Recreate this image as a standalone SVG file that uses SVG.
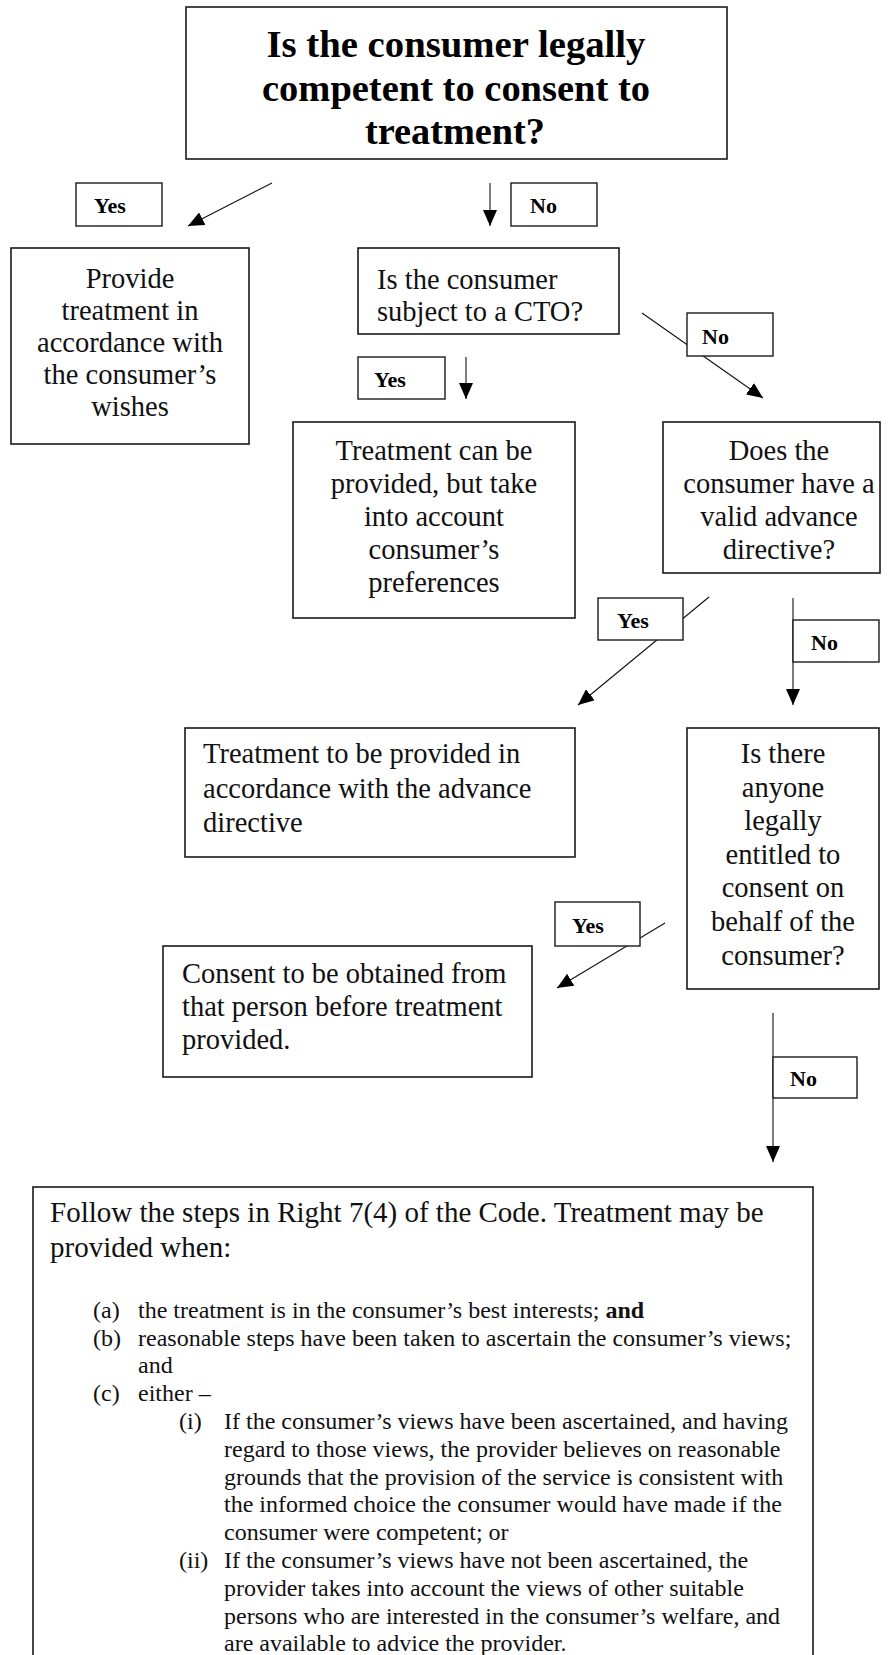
<svg xmlns="http://www.w3.org/2000/svg" width="893" height="1655" viewBox="0 0 893 1655">
<style>
.bg{fill:#fff}
.box{fill:#fff;stroke:#1a1a1a;stroke-width:1.6}
.lb{fill:#fff;stroke:#1a1a1a;stroke-width:1.4}
.ln{stroke:#111;stroke-width:1.1;fill:none}
.t{font-family:"Liberation Serif","Times New Roman",serif;font-size:28.5px;fill:#111}
.c{text-anchor:middle}
.ti{font-family:"Liberation Serif","Times New Roman",serif;font-size:38px;font-weight:bold;fill:#000;text-anchor:middle}
.lbl{font-family:"Liberation Serif","Times New Roman",serif;font-size:22px;font-weight:bold;fill:#000}
.f{font-size:29px}
.s{font-family:"Liberation Serif","Times New Roman",serif;font-size:24px;fill:#111}
</style>
<defs>
<marker id="ah" viewBox="0 0 16 14" refX="16" refY="7" markerWidth="16" markerHeight="14" markerUnits="userSpaceOnUse" orient="auto">
<path d="M0,0 L16,7 L0,14 z" fill="#000"/>
</marker>
</defs>
<rect class="bg" x="0" y="0" width="893" height="1655"/>

<g id="connectors">
<line class="ln" x1="272" y1="183" x2="188" y2="226" marker-end="url(#ah)"/>
<line class="ln" x1="490" y1="183" x2="490" y2="226" marker-end="url(#ah)"/>
<line class="ln" x1="642" y1="313" x2="763" y2="398" marker-end="url(#ah)"/>
<line class="ln" x1="466" y1="357" x2="466" y2="399" marker-end="url(#ah)"/>
<line class="ln" x1="709" y1="597" x2="578" y2="705" marker-end="url(#ah)"/>
<line class="ln" x1="793" y1="598" x2="793" y2="705" marker-end="url(#ah)"/>
<line class="ln" x1="665" y1="923" x2="557" y2="988" marker-end="url(#ah)"/>
<line class="ln" x1="773" y1="1013" x2="773" y2="1162" marker-end="url(#ah)"/>
<g id="lbl-yes1"><rect class="lb" x="76" y="183" width="86" height="43"/><text class="lbl" x="94" y="213">Yes</text></g>
<g id="lbl-no1"><rect class="lb" x="511" y="183" width="86" height="43"/><text class="lbl" x="530" y="213">No</text></g>
<g id="lbl-no2"><rect class="lb" x="687" y="313" width="86" height="43"/><text class="lbl" x="702" y="344">No</text></g>
<g id="lbl-yes2"><rect class="lb" x="358" y="357" width="87" height="42"/><text class="lbl" x="374" y="387">Yes</text></g>
<g id="lbl-yes3"><rect class="lb" x="598" y="598" width="85" height="42"/><text class="lbl" x="617" y="628">Yes</text></g>
<g id="lbl-no3"><rect class="lb" x="793" y="620" width="86" height="42"/><text class="lbl" x="811" y="650">No</text></g>
<g id="lbl-yes4"><rect class="lb" x="555" y="902" width="85" height="44"/><text class="lbl" x="572" y="933">Yes</text></g>
<g id="lbl-no4"><rect class="lb" x="773" y="1057" width="84" height="41"/><text class="lbl" x="790" y="1086">No</text></g>
</g>

<g id="n-competent">
<rect class="box" x="186" y="7" width="541" height="152"/>
<text class="ti" x="456" y="57" textLength="379" lengthAdjust="spacingAndGlyphs">Is the consumer legally</text>
<text class="ti" x="456" y="101" textLength="388" lengthAdjust="spacingAndGlyphs">competent to consent to</text>
<text class="ti" x="455" y="144" textLength="180" lengthAdjust="spacingAndGlyphs">treatment?</text>
</g>

<g id="n-provide">
<rect class="box" x="11" y="248" width="238" height="196"/>
<text class="t c" x="130" y="288">Provide</text>
<text class="t c" x="130" y="320">treatment in</text>
<text class="t c" x="130" y="352">accordance with</text>
<text class="t c" x="130" y="384">the consumer’s</text>
<text class="t c" x="130" y="416">wishes</text>
</g>

<g id="n-cto">
<rect class="box" x="358" y="248" width="261" height="86"/>
<text class="t" x="377" y="289">Is the consumer</text>
<text class="t" x="377" y="321">subject to a CTO?</text>
</g>

<g id="n-cto-yes">
<rect class="box" x="293" y="422" width="282" height="196"/>
<text class="t c" x="434" y="460">Treatment can be</text>
<text class="t c" x="434" y="493">provided, but take</text>
<text class="t c" x="434" y="526">into account</text>
<text class="t c" x="434" y="559">consumer’s</text>
<text class="t c" x="434" y="592">preferences</text>
</g>

<g id="n-advance">
<rect class="box" x="663" y="422" width="217" height="151"/>
<text class="t c" x="779" y="460">Does the</text>
<text class="t c" x="779" y="493">consumer have a</text>
<text class="t c" x="779" y="526">valid advance</text>
<text class="t c" x="779" y="559">directive?</text>
</g>

<g id="n-advance-yes">
<rect class="box" x="185" y="728" width="390" height="129"/>
<text class="t" x="203" y="763">Treatment to be provided in</text>
<text class="t" x="203" y="798">accordance with the advance</text>
<text class="t" x="203" y="832">directive</text>
</g>

<g id="n-anyone">
<rect class="box" x="687" y="728" width="192" height="261"/>
<text class="t c" x="783" y="763">Is there</text>
<text class="t c" x="783" y="797">anyone</text>
<text class="t c" x="783" y="830">legally</text>
<text class="t c" x="783" y="864">entitled to</text>
<text class="t c" x="783" y="897">consent on</text>
<text class="t c" x="783" y="931">behalf of the</text>
<text class="t c" x="783" y="965">consumer?</text>
</g>

<g id="n-consent">
<rect class="box" x="163" y="946" width="369" height="131"/>
<text class="t" x="182" y="983">Consent to be obtained from</text>
<text class="t" x="182" y="1016">that person before treatment</text>
<text class="t" x="182" y="1049">provided.</text>
</g>

<g id="n-right74">
<rect class="box" x="33" y="1187" width="780" height="500"/>
<text class="t f" x="50" y="1222">Follow the steps in Right 7(4) of the Code. Treatment may be</text>
<text class="t f" x="50" y="1257">provided when:</text>
<text class="s" x="93" y="1318">(a)</text>
<text class="s" x="138" y="1318">the treatment is in the consumer’s best interests; <tspan font-weight="bold">and</tspan></text>
<text class="s" x="93" y="1346">(b)</text>
<text class="s" x="138" y="1346">reasonable steps have been taken to ascertain the consumer’s views;</text>
<text class="s" x="138" y="1373">and</text>
<text class="s" x="93" y="1401">(c)</text>
<text class="s" x="138" y="1401">either –</text>
<text class="s" x="179" y="1429">(i)</text>
<text class="s" x="224" y="1429">If the consumer’s views have been ascertained, and having</text>
<text class="s" x="224" y="1457">regard to those views, the provider believes on reasonable</text>
<text class="s" x="224" y="1485">grounds that the provision of the service is consistent with</text>
<text class="s" x="224" y="1512">the informed choice the consumer would have made if the</text>
<text class="s" x="224" y="1540">consumer were competent; or</text>
<text class="s" x="179" y="1568">(ii)</text>
<text class="s" x="224" y="1568">If the consumer’s views have not been ascertained, the</text>
<text class="s" x="224" y="1596">provider takes into account the views of other suitable</text>
<text class="s" x="224" y="1624">persons who are interested in the consumer’s welfare, and</text>
<text class="s" x="224" y="1651">are available to advice the provider.</text>
</g>
</svg>
